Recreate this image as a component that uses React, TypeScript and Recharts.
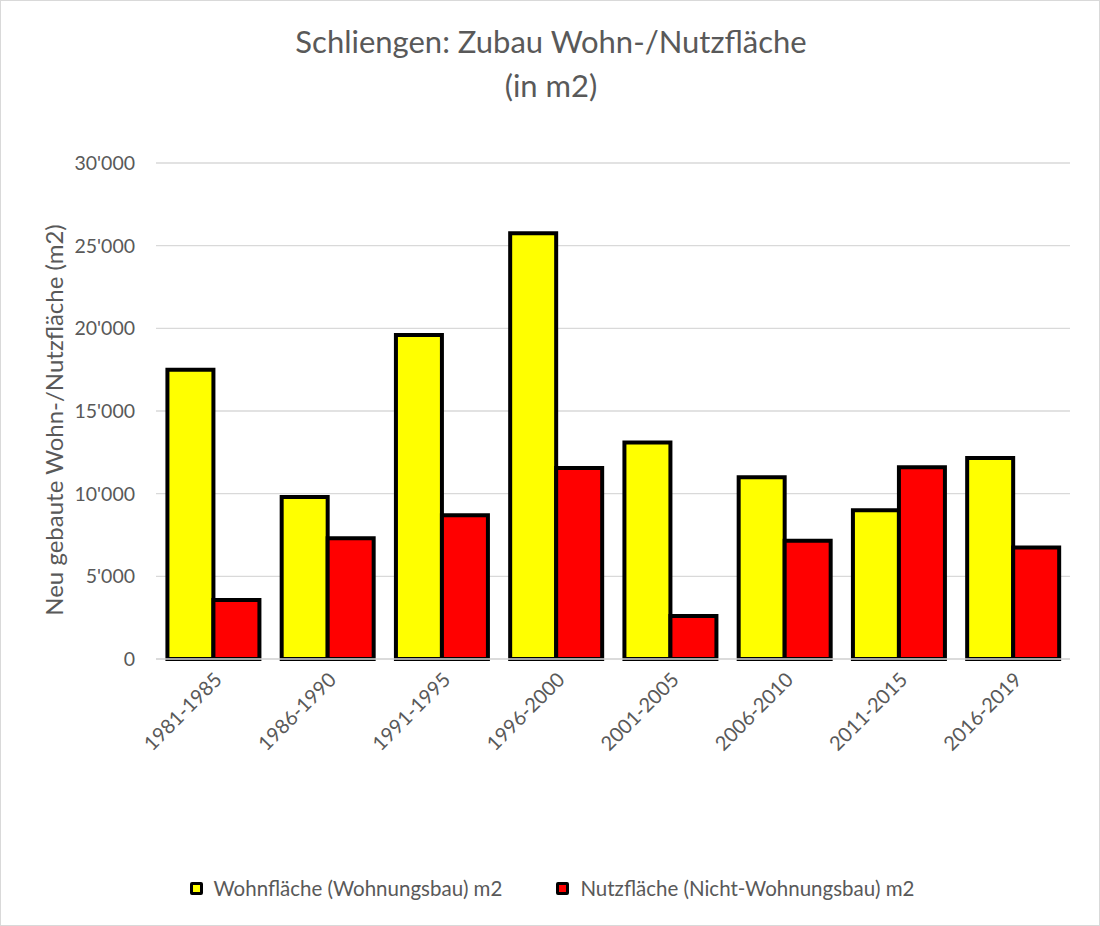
import { BarChart, Bar, XAxis, YAxis, CartesianGrid, Legend, Label } from "recharts";

// Zeitraum der Bautätigkeit
const periods = [
  "1981-1985",
  "1986-1990",
  "1991-1995",
  "1996-2000",
  "2001-2005",
  "2006-2010",
  "2011-2015",
  "2016-2019",
];

// Wohnfläche (Wohnungsbau) in m2
const wohnflaeche = [17500, 9800, 19600, 25750, 13100, 11000, 9000, 12150];

// Nutzfläche (Nicht-Wohnungsbau) in m2
const nutzflaeche = [3570, 7300, 8700, 11550, 2600, 7150, 11600, 6750];

const yTicks = [0, 5000, 10000, 15000, 20000, 25000, 30000];

const data = periods.map((p, i) => ({
  period: p,
  wohn: wohnflaeche[i],
  nutz: nutzflaeche[i],
}));

const FONT = "Lato, 'Open Sans', sans-serif";
const GREY = "#595959";

const fmt = (v: number) => String(v).replace(/\B(?=(\d{3})+(?!\d))/g, "'");

const legendItems = [
  { label: "Wohnfläche (Wohnungsbau) m2", color: "#ffff00" },
  { label: "Nutzfläche (Nicht-Wohnungsbau) m2", color: "#ff0000" },
];

const LegendBox = () => (
  <div style={{ display: "flex", justifyContent: "center", gap: 54, height: 30, alignItems: "center", fontFamily: FONT, fontSize: 20.5, color: GREY, paddingLeft: 4 }}>
    {legendItems.map((it) => (
      <div key={it.label} style={{ display: "flex", alignItems: "center" }}>
        <span style={{ display: "inline-block", width: 7, height: 7, background: it.color, border: "3px solid #000", borderRadius: 2, marginRight: 11 }} />
        <span>{it.label}</span>
      </div>
    ))}
  </div>
);

export default function App() {
  return (
    <div style={{ position: "absolute", top: 0, left: 0, width: 1098, height: 924, border: "1px solid #d9d9d9", background: "#fff" }}>
      <div style={{ position: "absolute", top: 18, left: 0, width: 1100, textAlign: "center", fontFamily: FONT, fontSize: 31, lineHeight: "44px", color: GREY }}>
        Schliengen: Zubau Wohn-/Nutzfläche
        <br />
        (in m2)
      </div>
      <BarChart
        width={1098}
        height={924}
        data={data}
        margin={{ top: 162, right: 29, left: 0, bottom: 0 }}
        barCategoryGap="10%"
        barGap={0}
      >
        <CartesianGrid vertical={false} stroke="#d9d9d9" strokeWidth={1.3} />
        <XAxis
          dataKey="period"
          height={236}
          axisLine={{ stroke: "#d9d9d9", strokeWidth: 1.3 }}
          tickLine={false}
          tickSize={0}
          tickMargin={12}
          interval={0}
          angle={-45}
          textAnchor="end"
          tick={{ fill: GREY, fontSize: 20, fontFamily: FONT }}
        />
        <YAxis
          width={155}
          domain={[0, 30000]}
          ticks={yTicks}
          tickFormatter={fmt}
          axisLine={false}
          tickLine={false}
          tickSize={0}
          tickMargin={21}
          tick={{ fill: GREY, fontSize: 19.5, fontFamily: FONT }}
        >
          <Label
            content={({ viewBox }: any) => {
              const cx = 52;
              const cy = viewBox.y + viewBox.height / 2 + 9;
              return (
                <text x={cx} y={cy} transform={`rotate(-90, ${cx}, ${cy})`} textAnchor="middle" dominantBaseline="central" fill={GREY} fontSize={24} fontFamily={FONT}>
                  Neu gebaute Wohn-/Nutzfläche (m2)
                </text>
              );
            }}
          />
        </YAxis>
        <Legend verticalAlign="bottom" content={<LegendBox />} wrapperStyle={{ top: 872, left: 0, width: 1098 }} />
        <Bar dataKey="wohn" name="Wohnfläche (Wohnungsbau) m2" fill="#ffff00" stroke="#000" strokeWidth={4} isAnimationActive={false} />
        <Bar dataKey="nutz" name="Nutzfläche (Nicht-Wohnungsbau) m2" fill="#ff0000" stroke="#000" strokeWidth={4} isAnimationActive={false} />
      </BarChart>
    </div>
  );
}
